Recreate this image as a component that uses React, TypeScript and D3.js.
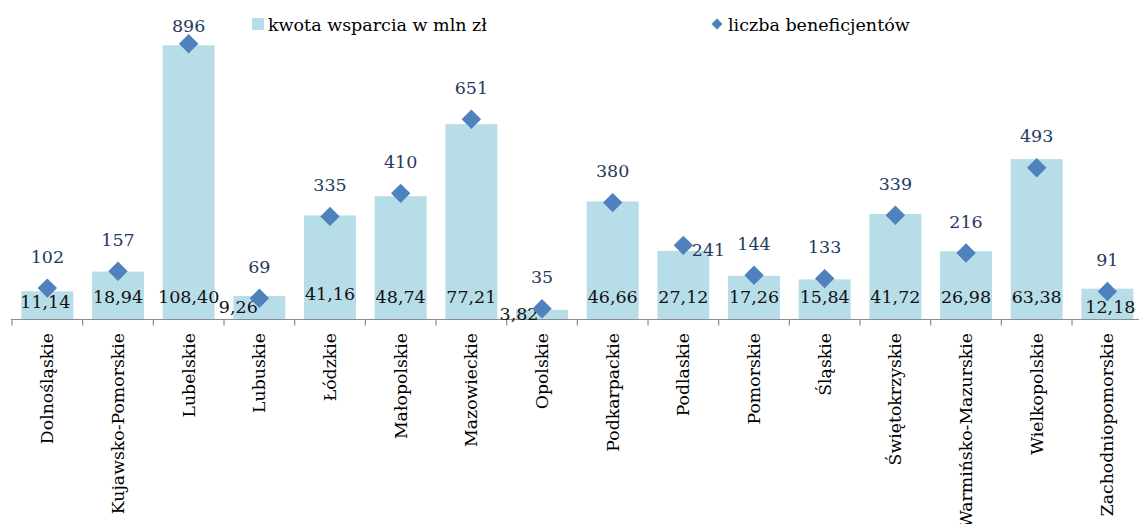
import React from "react";
import * as d3 from "d3";

const regions = [
  "Dolnośląskie",
  "Kujawsko-Pomorskie",
  "Lubelskie",
  "Lubuskie",
  "Łódzkie",
  "Małopolskie",
  "Mazowieckie",
  "Opolskie",
  "Podkarpackie",
  "Podlaskie",
  "Pomorskie",
  "Śląskie",
  "Świętokrzyskie",
  "Warmińsko-Mazurskie",
  "Wielkopolskie",
  "Zachodniopomorskie",
];

// kwota wsparcia w mln zł
const amounts = [
  11.14, 18.94, 108.4, 9.26, 41.16, 48.74, 77.21, 3.82, 46.66, 27.12, 17.26,
  15.84, 41.72, 26.98, 63.38, 12.18,
];

// liczba beneficjentów
const beneficiaries = [
  102, 157, 896, 69, 335, 410, 651, 35, 380, 241, 144, 133, 339, 216, 493, 91,
];

const amountLegend = "kwota wsparcia w mln zł";
const countLegend = "liczba beneficjentów";

const W = 1139;
const H = 524;
const FONT = "'DejaVu Serif', serif";
const BAR = "#B7DDE8";
const DIAMOND = "#4F81BD";
const NAVY = "#1F3A5F";

// hand-moved data labels, as in the source chart
const barLabelNudge: Record<string, [number, number]> = {
  Dolnośląskie: [-2, 5],
  Lubuskie: [-21, 10],
  Łódzkie: [0, -3],
  Opolskie: [-23, 17],
  Zachodniopomorskie: [3, 10],
};

const fmt = (v: number) => v.toFixed(2).replace(".", ",");

export default function App() {
  const x = d3
    .scaleBand<string>()
    .domain(regions)
    .range([12, 1142.7])
    .paddingInner(0.265)
    .paddingOuter(0.1325);

  const y = d3.scaleLinear().domain([0, 120]).range([319.5, 15.9]);
  const y2 = d3.scaleLinear().domain([0, 1000]).range([319.5, 11.8]);

  const step = x.step();
  const half = (step * x.paddingInner()) / 2;
  const ticks = regions.map((r) => (x(r) as number) - half);
  ticks.push(ticks[ticks.length - 1] + step);

  const diamond = d3.symbol(d3.symbolSquare, 188)();
  const smallDiamond = d3.symbol(d3.symbolSquare, 60)();
  const baseY = y(0);

  return (
    <svg
      width={W}
      height={H}
      style={{ position: "absolute", left: 0, top: 0, background: "#fff" }}
      fontFamily={FONT}
    >
      {/* legend */}
      <rect x={252} y={18} width={12} height={12} fill={BAR} />
      <text x={268} y={30.5} fontSize={17.5} fill="#000">
        {amountLegend}
      </text>
      <path d={smallDiamond} transform="translate(717,24) rotate(45)" fill={DIAMOND} />
      <text x={728} y={30.5} fontSize={17.5} fill="#000">
        {countLegend}
      </text>

      {/* bars */}
      {regions.map((r, i) => (
        <rect
          key={r}
          x={x(r)}
          y={y(amounts[i])}
          width={x.bandwidth()}
          height={baseY - y(amounts[i])}
          fill={BAR}
        />
      ))}

      {/* axis */}
      <line x1={11} x2={W} y1={baseY} y2={baseY} stroke="#8C8C8C" strokeWidth={1.2} />
      {ticks.map((t, i) => (
        <line key={i} x1={t} x2={t} y1={baseY} y2={baseY + 6} stroke="#8C8C8C" strokeWidth={1.2} />
      ))}

      {/* bar labels */}
      {regions.map((r, i) => {
        const [dx, dy] = barLabelNudge[r] || [0, 0];
        const cx = (x(r) as number) + x.bandwidth() / 2;
        return (
          <text
            key={r}
            x={cx + dx}
            y={303 + dy}
            textAnchor="middle"
            fontSize={17.5}
            fill="#111"
          >
            {fmt(amounts[i])}
          </text>
        );
      })}

      {/* diamonds */}
      {regions.map((r, i) => {
        const cx = (x(r) as number) + x.bandwidth() / 2;
        return (
          <path
            key={r}
            d={diamond}
            transform={`translate(${cx},${y2(beneficiaries[i])}) rotate(45)`}
            fill={DIAMOND}
          />
        );
      })}

      {/* diamond labels */}
      {regions.map((r, i) => {
        const cx = (x(r) as number) + x.bandwidth() / 2;
        const cy = y2(beneficiaries[i]);
        let tx = cx;
        let ty = Math.max(cy - 25.5, 31.5);
        let anchor: "middle" | "start" = "middle";
        if (r === "Podlaskie") {
          tx = cx + 8.5;
          ty = cy + 11;
          anchor = "start";
        }
        return (
          <text key={r} x={tx} y={ty} textAnchor={anchor} fontSize={17.5} fill={NAVY}>
            {beneficiaries[i]}
          </text>
        );
      })}

      {/* category labels */}
      {regions.map((r) => {
        const cx = (x(r) as number) + x.bandwidth() / 2;
        return (
          <text
            key={r}
            transform={`translate(${cx + 6},333) rotate(-90)`}
            textAnchor="end"
            fontSize={17.3}
            fill="#000"
          >
            {r}
          </text>
        );
      })}
    </svg>
  );
}
